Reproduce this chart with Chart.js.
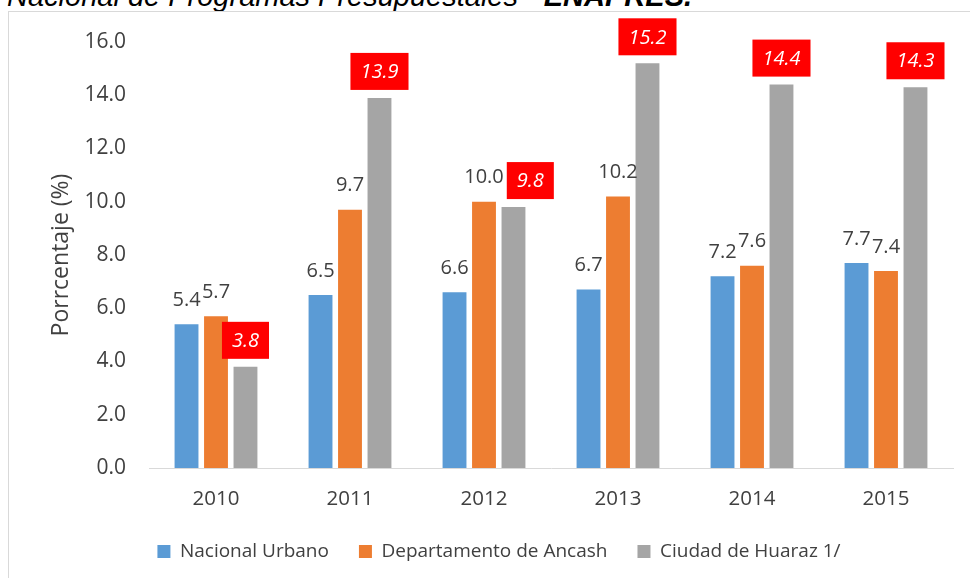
<!DOCTYPE html>
<html>
<head>
<meta charset="utf-8">
<script src="https://cdn.jsdelivr.net/npm/chart.js@4.4.0/dist/chart.umd.min.js"></script>
<style>
  html, body { margin: 0; padding: 0; background: #fff; }
  #wrap { position: relative; width: 970px; height: 578px; overflow: hidden; }
  #title { position: absolute; left: 7px; top: -18px; font-family: "Liberation Sans", Arial, sans-serif; font-style: italic; font-size: 29px; line-height: 29px; color: #000; white-space: nowrap; }
  #frame { position: absolute; left: 8px; top: 11px; width: 980px; height: 600px; border: 1px solid #d9d9d9; box-sizing: border-box; }
  #c { position: absolute; left: 0; top: 0; }
</style>
</head>
<body>
<div id="wrap">
  <div id="title">Nacional de Programas Presupuestales - <b>ENAPRES.</b></div>
  <div id="frame"></div>
  <canvas id="c" width="970" height="578"></canvas>
</div>
<script>
const categories = ["2010", "2011", "2012", "2013", "2014", "2015"];
const nacionalUrbano = [5.4, 6.5, 6.6, 6.7, 7.2, 7.7];
const ancash = [5.7, 9.7, 10.0, 10.2, 7.6, 7.4];
const huaraz = [3.8, 13.9, 9.8, 15.2, 14.4, 14.3];
const seriesNames = ["Nacional Urbano", "Departamento de Ancash", "Ciudad de Huaraz 1/"];
const yTicks = [0, 2, 4, 6, 8, 10, 12, 14, 16];

const FONT = '"Open Sans", "DejaVu Sans", sans-serif';
const TXT = '#404040';

const labelPlugin = {
  id: 'barLabels',
  afterDatasetsDraw(chart) {
    const ctx = chart.ctx;
    const plainBoxes = []; // per index: list of plain label boxes
    chart.data.datasets.forEach((ds, di) => {
      const meta = chart.getDatasetMeta(di);
      meta.data.forEach((bar, i) => {
        const txt = ds.data[i].toFixed(1);
        ctx.save();
        if (di < 2) {
          ctx.font = '20px ' + FONT;
          const tw = ctx.measureText(txt).width;
          const cy = bar.y - 24;
          (plainBoxes[i] = plainBoxes[i] || []).push({ l: bar.x - tw / 2, r: bar.x + tw / 2, t: cy - 11, b: cy + 11 });
          ctx.fillStyle = TXT;
          ctx.textAlign = 'center';
          ctx.textBaseline = 'middle';
          ctx.fillText(txt, bar.x, cy);
        } else {
          ctx.font = 'italic 20px ' + FONT;
          const w = ctx.measureText(txt).width + 20;
          const h = 37;
          const bottom = bar.y - 8;
          let left = bar.x - w / 2;
          (plainBoxes[i] || []).forEach(pb => {
            const vOverlap = pb.b > bottom - h && pb.t < bottom;
            if (vOverlap && left < pb.r + 3) left = pb.r + 3;
          });
          ctx.fillStyle = '#ff0000';
          ctx.fillRect(left, bottom - h, w, h);
          ctx.fillStyle = '#ffffff';
          ctx.textAlign = 'center';
          ctx.textBaseline = 'middle';
          ctx.fillText(txt, left + w / 2, bottom - h / 2 + 1);
        }
        ctx.restore();
      });
    });
  }
};

const colors = ['#5B9BD5', '#ED7D31', '#A5A5A5'];
const values = [nacionalUrbano, ancash, huaraz];

new Chart(document.getElementById('c'), {
  type: 'bar',
  data: {
    labels: categories,
    datasets: values.map((v, k) => ({
      label: seriesNames[k],
      data: v,
      backgroundColor: colors[k],
      borderWidth: 0,
      categoryPercentage: 0.66,
      barPercentage: 0.81
    }))
  },
  options: {
    responsive: false,
    animation: false,
    devicePixelRatio: 1,
    layout: { padding: { left: 45, right: 17, top: 42, bottom: 7 } },
    plugins: {
      tooltip: { enabled: false },
      legend: {
        position: 'bottom',
        labels: {
          boxWidth: 13, boxHeight: 13, padding: 30,
          color: TXT,
          font: { family: FONT, size: 19 }
        }
      }
    },
    scales: {
      x: {
        afterFit(scale) { scale.height = 44; },
        grid: { display: false, drawTicks: false },
        border: { display: true, color: '#d9d9d9', width: 1 },
        ticks: { color: TXT, font: { family: FONT, size: 20.5 }, padding: 19 }
      },
      y: {
        min: 0, max: 16,
        afterFit(scale) { scale.width = 104; },
        afterBuildTicks(scale) { scale.ticks = yTicks.map(v => ({ value: v })); },
        grid: { display: false, drawTicks: false },
        border: { display: false },
        ticks: {
          color: TXT, font: { family: FONT, size: 21 }, padding: 23,
          callback: v => Number(v).toFixed(1)
        },
        title: {
          display: true, text: 'Porrcentaje (%)', color: TXT,
          font: { family: FONT, size: 23 }, padding: { top: 3, bottom: 0 }
        }
      }
    }
  },
  plugins: [labelPlugin]
});
</script>
</body>
</html>
